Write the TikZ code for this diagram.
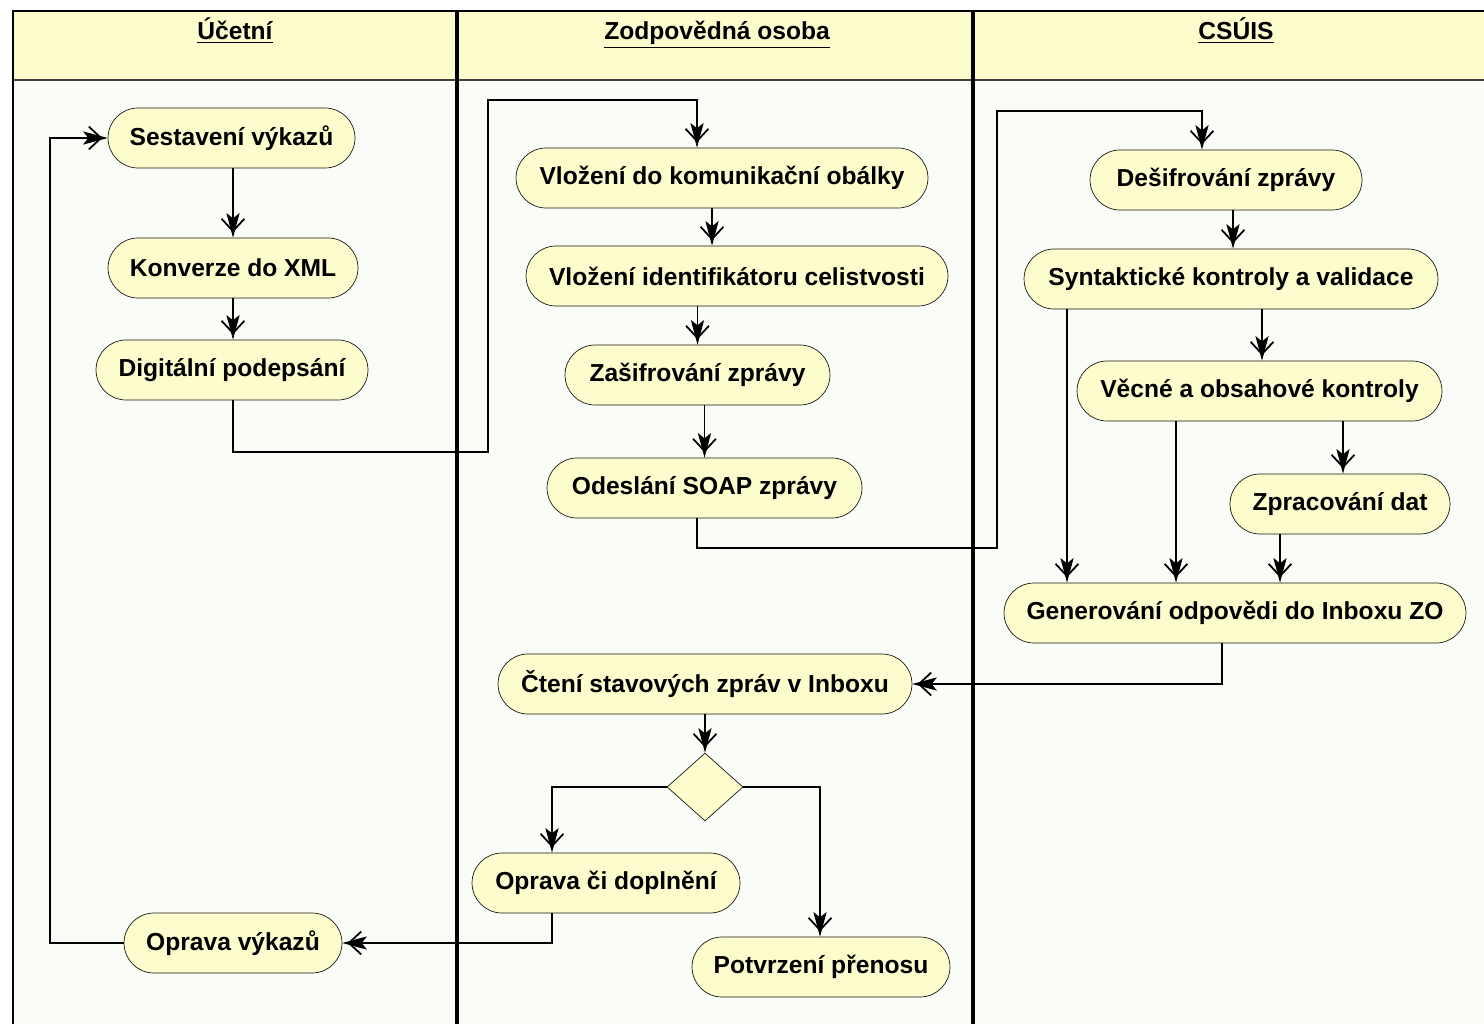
\documentclass[tikz,border=0pt]{standalone}
\usepackage{fontspec}
\setmainfont{Liberation Sans}
\usetikzlibrary{arrows.meta,shapes.geometric}
\definecolor{paleyellow}{RGB}{252,252,204}
\definecolor{lanewhite}{RGB}{250,252,248}

\begin{document}
\begin{tikzpicture}[x=0.02cm,y=-0.02cm,
  act/.style={draw=black!90,fill=paleyellow,rounded corners=0.6cm,
    minimum height=1.2cm,inner sep=0pt,
    font=\fontsize{14}{16}\selectfont\bfseries},
  flow/.style={draw=black,line width=0.6pt,
    -{Straight Barb[length=7pt,width=13pt,line width=1pt,sep=-11pt]Stealth[length=14pt,width=7.5pt,inset=3pt]}},
  lanehead/.style={anchor=base,font=\fontsize{14}{16}\selectfont\bfseries}]
\useasboundingbox (0,0) rectangle (1484,1024);
\fill[white] (0,0) rectangle (1484,1024);
% swimlanes
\fill[lanewhite] (13,80) rectangle (1500,1030);
\fill[paleyellow] (13,11) rectangle (1500,80);
\draw[line width=0.8pt,black!75] (13,80) -- (1500,80);
\draw[line width=1.7pt] (13,1030) -- (13,11) -- (1500,11);
\draw[line width=2.3pt] (457,11) -- (457,1030);
\draw[line width=2.3pt] (973,11) -- (973,1030);
\node[lanehead] (hucet) at (235,40) {\underline{Účetní}};
\node[lanehead] (hzodp) at (717,40) {\underline{Zodpovědná osoba}};
\node[lanehead] (hcsuis) at (1236,40) {\underline{CSÚIS}};

% Ucetni
\node[act,minimum width=4.94cm] (sest) at (231.5,138) {Sestavení výkazů};
\node[act,minimum width=5.0cm] (konv) at (233,268) {Konverze do XML};
\node[act,minimum width=5.44cm] (digi) at (232,370) {Digitální podepsání};
\node[act,minimum width=4.36cm] (oprv) at (233,943) {Oprava výkazů};

% Zodpovedna osoba
\node[act,minimum width=8.24cm] (oblk) at (722,178) {Vložení do komunikační obálky};
\node[act,minimum width=8.44cm] (iden) at (737,276) {Vložení identifikátoru celistvosti};
\node[act,minimum width=5.3cm] (zasi) at (697.5,375) {Zašifrování zprávy};
\node[act,minimum width=6.3cm] (odes) at (704.5,488) {Odeslání SOAP zprávy};
\node[act,minimum width=8.28cm] (cten) at (705,684) {Čtení stavových zpráv v Inboxu};
\node[draw=black!90,fill=paleyellow,diamond,minimum width=1.52cm,
  minimum height=1.36cm,inner sep=0pt] (dec) at (705,787) {};
\node[act,minimum width=5.36cm] (oprd) at (606,883) {Oprava či doplnění};
\node[act,minimum width=5.16cm] (potv) at (821,967) {Potvrzení přenosu};

% CSUIS
\node[act,minimum width=5.44cm] (desi) at (1226,180) {Dešifrování zprávy};
\node[act,minimum width=8.28cm] (synt) at (1231,279) {Syntaktické kontroly a validace};
\node[act,minimum width=7.3cm] (vecn) at (1259.5,391) {Věcné a obsahové kontroly};
\node[act,minimum width=4.4cm] (zprc) at (1340,504) {Zpracování dat};
\node[act,minimum width=9.24cm] (gene) at (1235,613) {Generování odpovědi do Inboxu ZO};

% flows
\draw[flow] (sest.south -| konv.north) -- (konv.north);
\draw[flow] (konv.south -| 233,0) -- (digi.north -| 233,0);
\draw[flow] (digi.south -| 233,0) |- (488,452) |- (697,100) -- (oblk.north -| 697,0);
\draw[flow] (oblk.south -| 712,0) -- (iden.north -| 712,0);
\draw[flow] (iden.south -| zasi.north) -- (zasi.north);
\draw[flow] (zasi.south -| odes.north) -- (odes.north);
\draw[flow] (odes.south -| 697,0) |- (997,548) |- (1202,111) -- (desi.north -| 1202,0);
\draw[flow] (desi.south -| 1233,0) -- (synt.north -| 1233,0);
\draw[flow] (synt.south -| 1262,0) -- (vecn.north -| 1262,0);
\draw[flow] (synt.south -| 1067,0) -- (gene.north -| 1067,0);
\draw[flow] (vecn.south -| 1176,0) -- (gene.north -| 1176,0);
\draw[flow] (vecn.south -| 1343,0) -- (zprc.north -| 1343,0);
\draw[flow] (zprc.south -| 1280,0) -- (gene.north -| 1280,0);
\draw[flow] (gene.south -| 1222,0) |- (cten.east);
\draw[flow] (cten.south) -- (dec.north);
\draw[flow] (dec.west) -| (552,0 |- oprd.north);
\draw[flow] (dec.east) -| (820,0 |- potv.north);
\draw[flow] (oprd.south -| 552,0) |- (oprv.east);
\draw[flow] (oprv.west) -| (50,600) |- (sest.west);
\end{tikzpicture}
\end{document}
